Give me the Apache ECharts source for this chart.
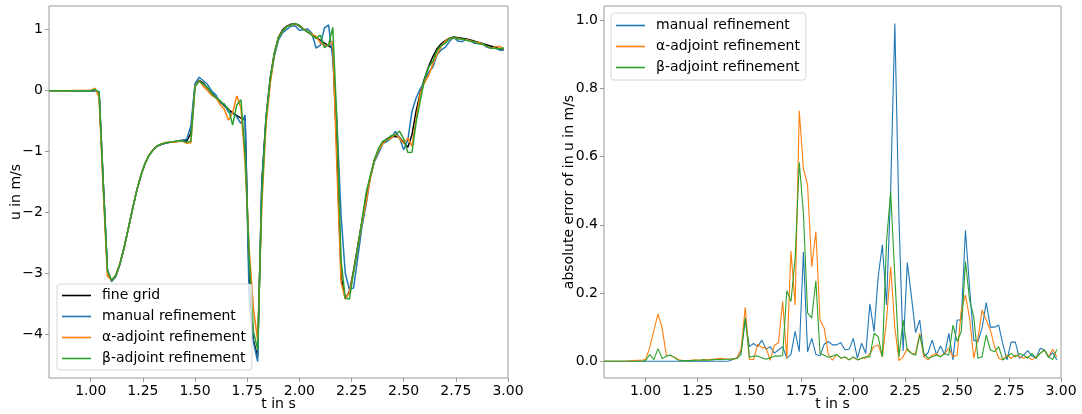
<!DOCTYPE html>
<html><head><meta charset="utf-8">
<script src="https://cdn.jsdelivr.net/npm/echarts@6/dist/echarts.min.js"></script>
<style>html,body{margin:0;padding:0;background:#fff}#c{width:1082px;height:414px}</style>
</head><body><div id="c"></div>
<script>
// time samples (s)
const times = [
 0.80,0.82,0.84,0.86,0.88,0.90,0.92,0.94,0.96,0.98,
 1.00,1.02,1.04,1.06,1.08,1.10,1.12,1.14,1.16,1.18,
 1.20,1.22,1.24,1.26,1.28,1.30,1.32,1.34,1.36,1.38,
 1.40,1.42,1.44,1.46,1.48,1.50,1.52,1.54,1.56,1.58,
 1.60,1.62,1.64,1.66,1.68,1.70,1.72,1.74,1.76,1.78,
 1.80,1.82,1.84,1.86,1.88,1.90,1.92,1.94,1.96,1.98,
 2.00,2.02,2.04,2.06,2.08,2.10,2.12,2.14,2.16,2.18,
 2.20,2.22,2.24,2.26,2.28,2.30,2.32,2.34,2.36,2.38,
 2.40,2.42,2.44,2.46,2.48,2.50,2.52,2.54,2.56,2.58,
 2.60,2.62,2.64,2.66,2.68,2.70,2.72,2.74,2.76,2.78,
 2.80,2.82,2.84,2.86,2.88,2.90,2.92,2.94,2.96,2.98];

// left panel: u in m/s
const fineGrid = [
 0,0,0,0,0,0,0,0,0,0,
 0,0,-0.02,-1.5,-2.95,-3.13,-3.05,-2.85,-2.58,-2.27,
 -1.95,-1.65,-1.40,-1.20,-1.06,-0.97,-0.91,-0.88,-0.86,-0.85,
 -0.84,-0.83,-0.82,-0.83,-0.70,0.08,0.17,0.12,0.04,-0.04,
 -0.11,-0.18,-0.25,-0.31,-0.36,-0.41,-0.45,-0.47,-3.2,-4.1,
 -4.38,-1.5,-0.45,0.2,0.62,0.88,1.0,1.06,1.09,1.10,
 1.06,1.01,0.96,0.92,0.87,0.83,0.78,0.74,0.69,-1.0,
 -3.05,-3.42,-3.30,-2.95,-2.55,-2.15,-1.75,-1.42,-1.14,-0.96,
 -0.85,-0.79,-0.76,-0.75,-0.77,-0.85,-0.93,-0.72,-0.33,-0.03,
 0.20,0.40,0.56,0.69,0.77,0.82,0.86,0.88,0.87,0.86,
 0.85,0.83,0.81,0.79,0.77,0.75,0.73,0.71,0.69,0.67];
const manualRef = [
 0,0,0,0,0,0,0,0,0,0,
 0,0,-0.02,-1.5,-2.95,-3.13,-3.05,-2.85,-2.58,-2.27,
 -1.95,-1.65,-1.40,-1.20,-1.06,-0.97,-0.91,-0.88,-0.86,-0.85,
 -0.84,-0.825,-0.81,-0.80,-0.58,0.12,0.22,0.163,0.10,-0.005,
 -0.07,-0.205,-0.217,-0.353,-0.37,-0.43,-0.54,-0.40,-3.52,-4.13,
 -4.45,-1.52,-0.466,0.15,0.562,0.832,0.952,1.005,1.057,1.065,
 0.993,1.0,1.013,0.943,0.70,0.743,1.028,1.08,0.525,-0.5,
 -2.06,-3.0,-3.27,-3.24,-2.74,-2.234,-1.871,-1.434,-1.165,-1.022,
 -0.87,-0.835,-0.78,-0.668,-0.774,-0.971,-0.809,-0.336,-0.116,0.032,
 0.142,0.303,0.388,0.59,0.67,0.714,0.81,0.876,0.814,0.804,
 0.841,0.812,0.779,0.774,0.761,0.712,0.697,0.698,0.665,0.666];
const alphaRef = [
 0,0,0,0,0,0,0.001,0.002,0.003,0.003,
 0.005,0.04,-0.11,-1.64,-3.047,-3.112,-3.033,-2.838,-2.576,-2.268,
 -1.948,-1.647,-1.396,-1.197,-1.055,-0.966,-0.904,-0.873,-0.851,-0.843,
 -0.846,-0.836,-0.83,-0.865,-0.858,0.075,0.165,0.07,0.0,-0.08,
 -0.113,-0.227,-0.304,-0.485,-0.369,-0.087,-0.285,-1.204,-2.635,-3.584,
 -4.103,-1.88,-0.57,0.103,0.60,0.877,0.98,1.051,1.078,1.096,
 1.072,1.014,0.969,0.929,0.893,0.787,0.732,0.753,0.81,-1.277,
 -3.15,-3.422,-3.313,-2.988,-2.573,-2.173,-1.832,-1.433,-1.144,-0.978,
 -0.873,-0.803,-0.783,-0.712,-0.783,-0.868,-0.78,-0.914,-0.456,-0.039,
 0.133,0.25,0.44,0.60,0.727,0.811,0.856,0.862,0.861,0.842,
 0.837,0.821,0.797,0.786,0.757,0.727,0.697,0.723,0.725,0.682];
const betaRef = [
 0,0,0,0,0,0,0,0,0,0,
 0.002,0.02,-0.025,-1.537,-2.958,-3.115,-3.032,-2.84,-2.577,-2.268,
 -1.948,-1.648,-1.397,-1.197,-1.056,-0.967,-0.906,-0.875,-0.855,-0.844,
 -0.834,-0.823,-0.828,-0.85,-0.829,0.068,0.155,0.105,0.05,-0.046,
 -0.12,-0.165,-0.235,-0.293,-0.567,-0.235,-0.15,-1.053,-2.767,-3.958,
 -4.253,-1.736,-0.473,0.182,0.608,0.865,0.98,1.051,1.077,1.104,
 1.073,1.006,0.969,0.907,0.857,0.912,0.708,0.753,1.04,-0.503,
 -2.80,-3.407,-3.421,-2.983,-2.573,-2.132,-1.673,-1.397,-1.131,-0.947,
 -0.832,-0.803,-0.737,-0.732,-0.664,-0.792,-1.017,-1.012,-0.51,-0.16,
 0.191,0.387,0.483,0.657,0.742,0.777,0.856,0.867,0.847,0.847,
 0.827,0.812,0.801,0.767,0.761,0.727,0.697,0.697,0.685,0.705];

// right panel: absolute error of u in m/s
const errManual = [
 0,0,0,0,0,0,0,0,0,0,
 0,0,0,0,0,0,0,0,0,0,
 0,0,0,0,0,0,0,0,0,0,
 0.001,0.005,0.01,0.03,0.12,0.043,0.052,0.043,0.062,0.035,
 0.043,0.024,0.033,0.043,0.009,0.02,0.088,0.028,0.32,0.028,
 0.067,0.02,0.016,0.05,0.058,0.048,0.048,0.055,0.033,0.035,
 0.067,0.009,0.053,0.023,0.168,0.087,0.248,0.341,0.165,0.50,
 0.99,0.42,0.03,0.289,0.19,0.084,0.121,0.014,0.025,0.062,
 0.02,0.045,0.02,0.082,0.004,0.121,0.121,0.384,0.214,0.062,
 0.058,0.097,0.172,0.10,0.10,0.106,0.05,0.004,0.056,0.056,
 0.009,0.018,0.031,0.016,0.009,0.038,0.033,0.012,0.025,0.004];
const errAlpha = [
 0,0,0,0,0,0,0.001,0.002,0.003,0.003,
 0.005,0.04,0.09,0.139,0.097,0.018,0.017,0.012,0.004,0.002,
 0.002,0.003,0.004,0.003,0.005,0.004,0.006,0.007,0.009,0.007,
 0.006,0.006,0.01,0.035,0.158,0.005,0.005,0.05,0.04,0.04,
 0.003,0.047,0.054,0.175,0.009,0.323,0.165,0.734,0.565,0.516,
 0.277,0.38,0.12,0.097,0.02,0.003,0.02,0.009,0.012,0.004,
 0.012,0.004,0.009,0.009,0.023,0.043,0.048,0.013,0.12,0.277,
 0.10,0.002,0.013,0.038,0.023,0.023,0.082,0.013,0.004,0.018,
 0.023,0.013,0.023,0.038,0.013,0.018,0.15,0.194,0.126,0.009,
 0.067,0.15,0.12,0.091,0.043,0.009,0.004,0.018,0.009,0.018,
 0.013,0.009,0.013,0.004,0.013,0.023,0.033,0.013,0.035,0.012];
const errBeta = [
 0,0,0,0,0,0,0,0,0,0,
 0.002,0.02,0.005,0.037,0.008,0.015,0.018,0.01,0.003,0.002,
 0.002,0.002,0.003,0.003,0.004,0.003,0.004,0.005,0.005,0.006,
 0.006,0.007,0.008,0.02,0.129,0.012,0.015,0.015,0.01,0.006,
 0.01,0.015,0.015,0.017,0.207,0.175,0.30,0.583,0.433,0.142,
 0.127,0.236,0.023,0.018,0.012,0.015,0.02,0.009,0.013,0.004,
 0.013,0.004,0.009,0.013,0.013,0.082,0.072,0.013,0.35,0.497,
 0.25,0.013,0.121,0.033,0.023,0.018,0.077,0.023,0.009,0.013,
 0.018,0.013,0.023,0.018,0.106,0.058,0.087,0.292,0.18,0.13,
 0.009,0.013,0.077,0.033,0.028,0.043,0.004,0.013,0.023,0.013,
 0.023,0.018,0.009,0.023,0.009,0.023,0.033,0.013,0.005,0.035];

const xTicks = [1.00,1.25,1.50,1.75,2.00,2.25,2.50,2.75,3.00];
const yTicksLeft = [-4,-3,-2,-1,0,1];
const yTicksRight = [0.0,0.2,0.4,0.6,0.8,1.0];
const names = ['fine grid','manual refinement','\u03b1-adjoint refinement','\u03b2-adjoint refinement'];
const colors = ['#000000','#1f77b4','#ff7f0e','#2ca02c'];

const FONT = 'DejaVu Sans';
const AX = '#9a9a9a';
const txt = {fontFamily: FONT, fontSize: 14, color: '#000'};

function xAxis(gi) {
  return {type:'value', gridIndex:gi, min:0.8, max:3.0, position:'bottom',
    name:'t in s', nameLocation:'middle', nameGap:19, nameMoveOverlap:false, nameTextStyle:txt,
    axisLine:{show:false, onZero:false},
    axisTick:{show:true, customValues:xTicks, length:4, lineStyle:{color:AX}},
    axisLabel:Object.assign({customValues:xTicks, formatter:v=>v.toFixed(2), margin:6}, txt),
    splitLine:{show:false}};
}
function yAxis(gi, min, max, ticks, fmt, name, gap) {
  return {type:'value', gridIndex:gi, min:min, max:max, position:'left',
    name:name, nameLocation:'middle', nameGap:gap, nameMoveOverlap:false, nameTextStyle:txt,
    axisLine:{show:false, onZero:false},
    axisTick:{show:true, customValues:ticks, length:4, lineStyle:{color:AX}},
    axisLabel:Object.assign({customValues:ticks, formatter:fmt, margin:6}, txt),
    splitLine:{show:false}};
}
function line(name, color, data, xi, yi, w) {
  return {type:'line', name:name, xAxisIndex:xi, yAxisIndex:yi,
    data: times.map((t,i)=>[t, data[i]]),
    showSymbol:false, symbol:'none', smooth:false,
    lineStyle:{color:color, width:w}, itemStyle:{color:color},
    emphasis:{disabled:true}, animation:false};
}
const legendCommon = {
  orient:'vertical', icon:'rect', itemWidth:29, itemHeight:1.6, itemGap:2,
  backgroundColor:'rgba(255,255,255,0.8)', borderColor:'#d6d6d6', borderWidth:1, borderRadius:3,
  textStyle:{fontFamily:FONT, fontSize:14, color:'#000', lineHeight:19, padding:[0,0,0,6]},
  selectedMode:false
};

const option = {
  animation:false,
  backgroundColor:'#fff',
  grid:[
    {left:49, top:6, width:459, height:372, show:true, borderColor:AX, borderWidth:1, backgroundColor:'#fff', outerBoundsMode:'none'},
    {left:604, top:6, width:457, height:372, show:true, borderColor:AX, borderWidth:1, backgroundColor:'#fff', outerBoundsMode:'none'}
  ],
  xAxis:[xAxis(0), xAxis(1)],
  yAxis:[
    yAxis(0, -4.72, 1.39, yTicksLeft, v=>(v<0?'\u2212':'')+Math.abs(v), 'u in m/s', 26),
    yAxis(1, -0.049, 1.041, yTicksRight, v=>v.toFixed(1), 'absolute error of in u in m/s', 28)
  ],
  legend:[
    Object.assign({}, legendCommon, {left:57, top:284, padding:[2,6,2,5], data:names}),
    Object.assign({}, legendCommon, {left:611, top:13, padding:[3,6,3,5], data:names.slice(1)})
  ],
  series:[
    line(names[0], colors[0], fineGrid, 0, 0, 1.5),
    line(names[1], colors[1], manualRef, 0, 0, 1.5),
    line(names[2], colors[2], alphaRef, 0, 0, 1.5),
    line(names[3], colors[3], betaRef, 0, 0, 1.5),
    line(names[1], colors[1], errManual, 1, 1, 1.1),
    line(names[2], colors[2], errAlpha, 1, 1, 1.1),
    line(names[3], colors[3], errBeta, 1, 1, 1.1)
  ]
};
const chart = echarts.init(document.getElementById('c'), null, {renderer:'canvas'});
chart.setOption(option);
</script></body></html>
